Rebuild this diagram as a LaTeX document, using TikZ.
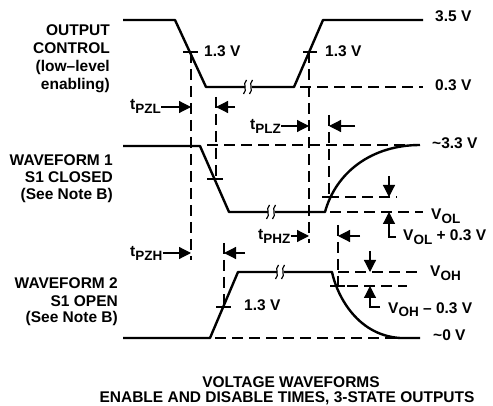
\documentclass[tikz,border=0pt]{standalone}
\usepackage{fontspec}
\setmainfont{Liberation Sans}
\usetikzlibrary{arrows.meta}
\newcommand{\mysub}[1]{\raisebox{-3.5pt}{\fontsize{13.5}{13.5}\selectfont #1}}
\begin{document}
\begin{tikzpicture}[x=1pt,y=-1pt,
  wave/.style={line width=2.4pt, line join=round},
  dsh/.style={line width=1.1pt, dash pattern=on 11pt off 6pt},
  tk/.style={line width=1.1pt},
  sq/.style={line width=1.2pt},
  arr/.style={line width=1.2pt, -{Triangle[length=12pt,width=12pt]}},
  lbl/.style={font=\fontsize{15.5}{17}\selectfont\bfseries, inner sep=0pt},
  ]
\path[use as bounding box] (0,0) rectangle (493,406);

% ---------- left labels ----------
\node[lbl, anchor=base east] (oc1) at (110,36) {OUTPUT};
\node[lbl, anchor=base east] (oc2) at (110,54) {CONTROL};
\node[lbl, anchor=base east] (oc3) at (110,72) {(low–level};
\node[lbl, anchor=base east] (oc4) at (110,90) {enabling)};
\node[lbl, anchor=base east] (w11) at (113,166) {WAVEFORM 1};
\node[lbl, anchor=base east] (w12) at (113,183) {S1 CLOSED};
\node[lbl, anchor=base east] (w13) at (113,200) {(See Note B)};
\node[lbl, anchor=base east] (w21) at (118,289) {WAVEFORM 2};
\node[lbl, anchor=base east] (w22) at (118,306) {S1 OPEN};
\node[lbl, anchor=base east] (w23) at (118,323) {(See Note B)};

% ---------- dashed reference lines ----------
\draw[dsh] (300,87) -- (423,87);
\draw[dsh] (207,145) -- (420,145);
\draw[dsh] (330,212) -- (423,212);
\draw[dsh] (328,197) -- (397,197);
\draw[dsh] (338,272) -- (422,272);
\draw[dsh] (330,286) -- (407,286);
\draw[dsh] (215,338) -- (400,338);

\draw[dsh] (191,52) -- (191,260);
\draw[dsh] (216,97) -- (216,179);
\draw[dsh] (309,52) -- (309,243);
\draw[dsh] (329,115) -- (329,197);
\draw[dsh] (338,225) -- (338,286);
\draw[dsh] (224,243) -- (224,307);

% ---------- waveforms ----------
\draw[wave] (123,20) -- (175,20) -- (206,87) -- (245,87);
\draw[wave] (252,87) -- (294,87) -- (323,20) -- (423,20);
\draw[wave] (123,146) -- (200,146) -- (229,212) -- (268,212);
\draw[wave] (275,212) -- (325,212) .. controls (336,172) and (372,145) .. (420,145);
\draw[wave] (123,338) -- (210,338) -- (238,272) -- (277,272);
\draw[wave] (284,272) -- (332,272) .. controls (336,292) and (355,335) .. (400,338) -- (420,338);

% break squiggles
\foreach \bx/\by in {245/87, 251/87, 268/212, 274/212, 277/272, 283/272}{
  \draw[sq] (\bx-1.5,\by+7) .. controls (\bx+3,\by+3) and (\bx-3,\by-3) .. (\bx+1.5,\by-7);
}

% ---------- ticks ----------
\draw[tk] (183,52) -- (198,52);
\draw[tk] (303,52) -- (317,52);
\draw[tk] (207,179) -- (223,179);
\draw[tk] (322,197) -- (336,197);
\draw[tk] (216,307) -- (231,307);
\draw[tk] (330,286) -- (345,286);

% ---------- voltage labels ----------
\node[lbl, anchor=base west] (v13a) at (204,57) {1.3 V};
\node[lbl, anchor=base west] (v13b) at (325,57) {1.3 V};
\node[lbl, anchor=base west] (v13c) at (244,311) {1.3 V};
\node[lbl, anchor=base west] (v35) at (435,22) {3.5 V};
\node[lbl, anchor=base west] (v03) at (435,91) {0.3 V};
\node[lbl, anchor=base west] (v33) at (432,149) {\textasciitilde{}3.3 V};
\node[lbl, anchor=base west] (vol) at (431,220) {V\mysub{OL}};
\node[lbl, anchor=base west] (volp) at (403,241) {V\mysub{OL} + 0.3 V};
\node[lbl, anchor=base west] (voh) at (430,277) {V\mysub{OH}};
\node[lbl, anchor=base west] (vohm) at (388,313) {V\mysub{OH} – 0.3 V};
\node[lbl, anchor=base west] (v0) at (433,341) {\textasciitilde{}0 V};

% ---------- timing labels and arrows ----------
\node[lbl, anchor=base west] (tpzl) at (130,110) {t\mysub{PZL}};
\draw[arr] (tpzl.east |- 0,107) -- (191,107);
\draw[arr] (235,107) -- (216,107);

\node[lbl, anchor=base west] (tplz) at (250,130) {t\mysub{PLZ}};
\draw[arr] (tplz.east |- 0,126) -- (309,126);
\draw[arr] (355,126) -- (329,126);

\node[lbl, anchor=base west] (tpzh) at (130,257) {t\mysub{PZH}};
\draw[arr] (tpzh.east |- 0,253) -- (191,253);
\draw[arr] (245,253) -- (224,253);

\node[lbl, anchor=base west] (tphz) at (258,240) {t\mysub{PHZ}};
\draw[arr] (tphz.east |- 0,236) -- (309,236);
\draw[arr] (360,236) -- (338,236);

% ---------- level arrows ----------
\draw[arr] (389,176) -- (389,197);
\draw[arr] (396,237) -- (389,237) -- (389,212);
\draw[arr] (370,251) -- (370,272);
\draw[arr] (380,307) -- (370,307) -- (370,286);

% ---------- title ----------
\node[lbl, anchor=base] (t1) at (291,387) {VOLTAGE WAVEFORMS};
\node[lbl, anchor=base] (t2) at (287,402) {ENABLE AND DISABLE TIMES, 3-STATE OUTPUTS};
\end{tikzpicture}
\end{document}
